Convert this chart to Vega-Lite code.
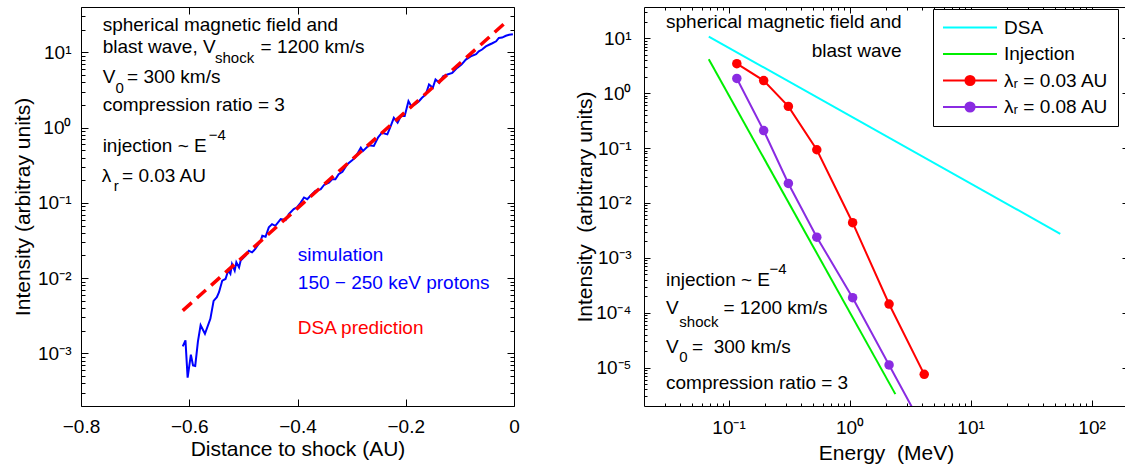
{
  "$schema": "https://vega.github.io/schema/vega-lite/v6.json",
  "background": "white",
  "padding": {"left": 12, "top": 2, "right": 0, "bottom": 0},
  "spacing": 54,
  "config": {
    "font": "Liberation Sans",
    "view": {"stroke": "black", "strokeWidth": 1},
    "axis": {"grid": false, "domain": false, "labelFontSize": 19, "titleFontSize": 21, "titleFontWeight": "normal", "labelColor": "black", "titleColor": "black", "tickColor": "black", "tickWidth": 1, "labelOverlap": false, "labelFlush": false, "labelBound": false}
  },
  "resolve": {"scale": {"color": "independent"}, "legend": {"color": "independent"}},
  "datasets": {
    "sim": [
      {"d": -0.612, "I": 0.00124}, {"d": -0.607, "I": 0.00149}, {"d": -0.603, "I": 0.000477}, {"d": -0.597, "I": 0.00096},
      {"d": -0.593, "I": 0.00069}, {"d": -0.589, "I": 0.00068}, {"d": -0.584, "I": 0.00143}, {"d": -0.579, "I": 0.00237},
      {"d": -0.571, "I": 0.00182}, {"d": -0.561, "I": 0.00288}, {"d": -0.555, "I": 0.00499}, {"d": -0.549, "I": 0.00558},
      {"d": -0.545, "I": 0.0065}, {"d": -0.539, "I": 0.00927}, {"d": -0.533, "I": 0.00975}, {"d": -0.528, "I": 0.0126},
      {"d": -0.524, "I": 0.0114}, {"d": -0.521, "I": 0.0154}, {"d": -0.516, "I": 0.0126}, {"d": -0.513, "I": 0.0163},
      {"d": -0.508, "I": 0.0139}, {"d": -0.505, "I": 0.0171}, {"d": -0.496, "I": 0.0199}, {"d": -0.49, "I": 0.0231},
      {"d": -0.484, "I": 0.022}, {"d": -0.478, "I": 0.0244}, {"d": -0.468, "I": 0.0314}, {"d": -0.465, "I": 0.0366},
      {"d": -0.459, "I": 0.0355}, {"d": -0.453, "I": 0.0472}, {"d": -0.447, "I": 0.0522}, {"d": -0.441, "I": 0.0496},
      {"d": -0.431, "I": 0.0608}, {"d": -0.422, "I": 0.059}, {"d": -0.416, "I": 0.0708}, {"d": -0.407, "I": 0.0826},
      {"d": -0.401, "I": 0.0869}, {"d": -0.394, "I": 0.101}, {"d": -0.388, "I": 0.118}, {"d": -0.382, "I": 0.112},
      {"d": -0.376, "I": 0.124}, {"d": -0.367, "I": 0.144}, {"d": -0.357, "I": 0.152}, {"d": -0.351, "I": 0.173},
      {"d": -0.342, "I": 0.186}, {"d": -0.336, "I": 0.206}, {"d": -0.33, "I": 0.206}, {"d": -0.324, "I": 0.24},
      {"d": -0.317, "I": 0.259}, {"d": -0.308, "I": 0.326}, {"d": -0.299, "I": 0.368}, {"d": -0.293, "I": 0.403},
      {"d": -0.283, "I": 0.542}, {"d": -0.279, "I": 0.489}, {"d": -0.268, "I": 0.581}, {"d": -0.259, "I": 0.569},
      {"d": -0.251, "I": 0.741}, {"d": -0.244, "I": 0.855}, {"d": -0.234, "I": 0.813}, {"d": -0.228, "I": 1.04},
      {"d": -0.222, "I": 1.35}, {"d": -0.215, "I": 1.16}, {"d": -0.209, "I": 1.42}, {"d": -0.202, "I": 1.42},
      {"d": -0.195, "I": 2.24}, {"d": -0.19, "I": 1.93}, {"d": -0.183, "I": 2.03}, {"d": -0.176, "I": 2.22},
      {"d": -0.17, "I": 2.49}, {"d": -0.163, "I": 2.75}, {"d": -0.157, "I": 3.73}, {"d": -0.15, "I": 3.38},
      {"d": -0.145, "I": 4.35}, {"d": -0.138, "I": 3.93}, {"d": -0.131, "I": 4.81}, {"d": -0.123, "I": 5.07},
      {"d": -0.114, "I": 5.34}, {"d": -0.105, "I": 6.21}, {"d": -0.097, "I": 6.87}, {"d": -0.089, "I": 8.0},
      {"d": -0.08, "I": 8.85}, {"d": -0.07, "I": 9.47}, {"d": -0.065, "I": 10.3}, {"d": -0.059, "I": 10.9},
      {"d": -0.052, "I": 12.0}, {"d": -0.046, "I": 12.6}, {"d": -0.04, "I": 13.2}, {"d": -0.033, "I": 14.0},
      {"d": -0.028, "I": 15.5}, {"d": -0.022, "I": 15.7}, {"d": -0.015, "I": 16.6}, {"d": -0.009, "I": 17.1},
      {"d": -0.002, "I": 17.4}
    ],
    "dsaLeft": [{"d": -0.612, "I": 0.0037}, {"d": -0.018, "I": 24}],
    "leftNotes": [
      {"x": -0.76, "y": 19.4, "t": "spherical magnetic field and"},
      {"x": -0.76, "y": 9.82, "t": "blast wave, V"},
      {"x": -0.4683, "y": 9.82, "t": "= 1200 km/s"},
      {"x": -0.76, "y": 3.97, "t": "V"},
      {"x": -0.715, "y": 3.97, "t": "= 300 km/s"},
      {"x": -0.76, "y": 1.64, "t": "compression ratio = 3"},
      {"x": -0.76, "y": 0.47, "t": "injection ~ E"},
      {"x": -0.7615, "y": 0.188, "t": "λ"},
      {"x": -0.7242, "y": 0.188, "t": "= 0.03 AU"}
    ],
    "leftScripts": [
      {"x": -0.5525, "y": 7.31, "t": "shock"},
      {"x": -0.5639, "y": 0.69, "t": "−4"},
      {"x": -0.7364, "y": 2.92, "t": "0"},
      {"x": -0.7395, "y": 0.143, "t": "r"}
    ],
    "leftBlue": [
      {"x": -0.3994, "y": 0.0169, "t": "simulation"},
      {"x": -0.3994, "y": 0.00719, "t": "150 − 250 keV protons"}
    ],
    "leftRed": [{"x": -0.3994, "y": 0.00182, "t": "DSA prediction"}],
    "spectra": [
      {"E": 0.0686, "I": 10.7, "series": "DSA"},
      {"E": 55.1, "I": 0.00274, "series": "DSA"},
      {"E": 0.0686, "I": 4.12, "series": "Injection"},
      {"E": 2.39, "I": 0.00000329, "series": "Injection"},
      {"E": 0.117, "I": 3.43, "series": "λᵣ = 0.03 AU"},
      {"E": 0.195, "I": 1.69, "series": "λᵣ = 0.03 AU"},
      {"E": 0.312, "I": 0.573, "series": "λᵣ = 0.03 AU"},
      {"E": 0.536, "I": 0.093, "series": "λᵣ = 0.03 AU"},
      {"E": 1.06, "I": 0.00436, "series": "λᵣ = 0.03 AU"},
      {"E": 2.12, "I": 0.000144, "series": "λᵣ = 0.03 AU"},
      {"E": 4.14, "I": 0.00000755, "series": "λᵣ = 0.03 AU"},
      {"E": 0.117, "I": 1.85, "series": "λᵣ = 0.08 AU"},
      {"E": 0.195, "I": 0.208, "series": "λᵣ = 0.08 AU"},
      {"E": 0.312, "I": 0.0226, "series": "λᵣ = 0.08 AU"},
      {"E": 0.536, "I": 0.00238, "series": "λᵣ = 0.08 AU"},
      {"E": 1.06, "I": 0.000188, "series": "λᵣ = 0.08 AU"},
      {"E": 2.12, "I": 0.0000112, "series": "λᵣ = 0.08 AU"},
      {"E": 4.14, "I": 0.00000074, "series": "λᵣ = 0.08 AU"}
    ],
    "rightNotes": [
      {"x": 0.0304, "y": 15.2, "t": "spherical magnetic field and"},
      {"x": 0.487, "y": 4.6, "t": "blast wave"},
      {"x": 0.0304, "y": 0.000303, "t": "injection ~ E"},
      {"x": 0.0304, "y": 0.000095, "t": "V"},
      {"x": 0.0906, "y": 0.000095, "t": "= 1200 km/s"},
      {"x": 0.0304, "y": 0.0000182, "t": "V"},
      {"x": 0.0499, "y": 0.0000182, "t": "=\u00a0 300 km/s"},
      {"x": 0.0304, "y": 0.00000416, "t": "compression ratio = 3"}
    ],
    "rightScripts": [
      {"x": 0.218, "y": 0.0005, "t": "−4"},
      {"x": 0.0392, "y": 0.0000561, "t": "shock"},
      {"x": 0.0392, "y": 0.0000128, "t": "0"}
    ]
  },
  "hconcat": [
    {
      "width": 433,
      "height": 399,
      "resolve": {"axis": {"x": "independent", "y": "independent"}},
      "layer": [
        {
          "data": {"name": "sim"},
          "mark": {"type": "line", "color": "#0000ff", "strokeWidth": 2, "clip": true},
          "encoding": {
            "x": {"field": "d", "type": "quantitative", "scale": {"domain": [-0.8, 0], "nice": false, "zero": false},
              "axis": {"orient": "bottom", "values": [-0.8, -0.6, -0.4, -0.2, 0], "format": ".1~f", "tickSize": -7, "labelPadding": 18, "title": "Distance to shock (AU)", "titlePadding": 2}},
            "y": {"field": "I", "type": "quantitative", "scale": {"type": "log", "domain": [0.0002, 40], "nice": false},
              "axis": {"orient": "left",
                "values": [0.0003,0.0004,0.0005,0.0006,0.0007,0.0008,0.0009,0.001,0.002,0.003,0.004,0.005,0.006,0.007,0.008,0.009,0.01,0.02,0.03,0.04,0.05,0.06,0.07,0.08,0.09,0.1,0.2,0.3,0.4,0.5,0.6,0.7,0.8,0.9,1,2,3,4,5,6,7,8,9,10,20,30],
                "labelExpr": "abs(log(datum.value)/LN10-round(log(datum.value)/LN10))<0.01 ? ['10⁻⁶','10⁻⁵','10⁻⁴','10⁻³','10⁻²','10⁻¹','10⁰','10¹','10²','10³'][round(log(datum.value)/LN10)+6] : ''",
                "tickSize": {"condition": {"test": "abs(log(datum.value)/LN10-round(log(datum.value)/LN10))<0.01", "value": -7}, "value": -4},
                "labelPadding": 17, "title": "Intensity (arbitray units)", "titlePadding": 4}}
          }
        },
        {
          "data": {"name": "dsaLeft"},
          "mark": {"type": "line", "color": "#ff0000", "strokeWidth": 3.5, "strokeDash": [12, 7], "clip": true},
          "encoding": {
            "x": {"field": "d", "type": "quantitative", "scale": {"domain": [-0.8, 0], "nice": false, "zero": false},
              "axis": {"orient": "top", "values": [-0.8, -0.6, -0.4, -0.2, 0], "labels": false, "tickSize": -7, "title": null}},
            "y": {"field": "I", "type": "quantitative", "scale": {"type": "log", "domain": [0.0002, 40], "nice": false},
              "axis": {"orient": "right",
                "values": [0.0003,0.0004,0.0005,0.0006,0.0007,0.0008,0.0009,0.001,0.002,0.003,0.004,0.005,0.006,0.007,0.008,0.009,0.01,0.02,0.03,0.04,0.05,0.06,0.07,0.08,0.09,0.1,0.2,0.3,0.4,0.5,0.6,0.7,0.8,0.9,1,2,3,4,5,6,7,8,9,10,20,30],
                "labels": false,
                "tickSize": {"condition": {"test": "abs(log(datum.value)/LN10-round(log(datum.value)/LN10))<0.01", "value": -7}, "value": -4},
                "title": null}}
          }
        },
        {
          "data": {"name": "leftNotes"},
          "mark": {"type": "text", "align": "left", "baseline": "alphabetic", "fontSize": 19, "color": "black"},
          "encoding": {
            "x": {"field": "x", "type": "quantitative", "scale": {"domain": [-0.8, 0], "nice": false, "zero": false}, "axis": null},
            "y": {"field": "y", "type": "quantitative", "scale": {"type": "log", "domain": [0.0002, 40], "nice": false}, "axis": null},
            "text": {"field": "t"}
          }
        },
        {
          "data": {"name": "leftScripts"},
          "mark": {"type": "text", "align": "left", "baseline": "alphabetic", "fontSize": 15, "color": "black"},
          "encoding": {
            "x": {"field": "x", "type": "quantitative", "scale": {"domain": [-0.8, 0], "nice": false, "zero": false}, "axis": null},
            "y": {"field": "y", "type": "quantitative", "scale": {"type": "log", "domain": [0.0002, 40], "nice": false}, "axis": null},
            "text": {"field": "t"}
          }
        },
        {
          "data": {"name": "leftBlue"},
          "mark": {"type": "text", "align": "left", "baseline": "alphabetic", "fontSize": 19, "color": "#0000ff"},
          "encoding": {
            "x": {"field": "x", "type": "quantitative", "scale": {"domain": [-0.8, 0], "nice": false, "zero": false}, "axis": null},
            "y": {"field": "y", "type": "quantitative", "scale": {"type": "log", "domain": [0.0002, 40], "nice": false}, "axis": null},
            "text": {"field": "t"}
          }
        },
        {
          "data": {"name": "leftRed"},
          "mark": {"type": "text", "align": "left", "baseline": "alphabetic", "fontSize": 19, "color": "#ff0000"},
          "encoding": {
            "x": {"field": "x", "type": "quantitative", "scale": {"domain": [-0.8, 0], "nice": false, "zero": false}, "axis": null},
            "y": {"field": "y", "type": "quantitative", "scale": {"type": "log", "domain": [0.0002, 40], "nice": false}, "axis": null},
            "text": {"field": "t"}
          }
        }
      ]
    },
    {
      "width": 484,
      "height": 399,
      "resolve": {"axis": {"x": "independent", "y": "independent"}},
      "layer": [
        {
          "data": {"name": "spectra"},
          "mark": {"type": "line", "strokeWidth": 2, "clip": true},
          "encoding": {
            "x": {"field": "E", "type": "quantitative", "scale": {"type": "log", "domain": [0.02, 200], "nice": false},
              "axis": {"orient": "bottom",
                "values": [0.03,0.04,0.05,0.06,0.07,0.08,0.09,0.1,0.2,0.3,0.4,0.5,0.6,0.7,0.8,0.9,1,2,3,4,5,6,7,8,9,10,20,30,40,50,60,70,80,90,100],
                "labelExpr": "abs(log(datum.value)/LN10-round(log(datum.value)/LN10))<0.01 ? ['10⁻⁶','10⁻⁵','10⁻⁴','10⁻³','10⁻²','10⁻¹','10⁰','10¹','10²','10³'][round(log(datum.value)/LN10)+6] : ''",
                "tickSize": {"condition": {"test": "abs(log(datum.value)/LN10-round(log(datum.value)/LN10))<0.01", "value": -6}, "value": -3},
                "labelPadding": 18, "title": "Energy\u00a0 (MeV)", "titlePadding": 2}},
            "y": {"field": "I", "type": "quantitative", "scale": {"type": "log", "domain": [0.000002, 37], "nice": false},
              "axis": {"orient": "left",
                "values": [0.000003,0.000004,0.000005,0.000006,0.000007,0.000008,0.000009,0.00001,0.00002,0.00003,0.00004,0.00005,0.00006,0.00007,0.00008,0.00009,0.0001,0.0002,0.0003,0.0004,0.0005,0.0006,0.0007,0.0008,0.0009,0.001,0.002,0.003,0.004,0.005,0.006,0.007,0.008,0.009,0.01,0.02,0.03,0.04,0.05,0.06,0.07,0.08,0.09,0.1,0.2,0.3,0.4,0.5,0.6,0.7,0.8,0.9,1,2,3,4,5,6,7,8,9,10,20,30],
                "labelExpr": "abs(log(datum.value)/LN10-round(log(datum.value)/LN10))<0.01 ? ['10⁻⁶','10⁻⁵','10⁻⁴','10⁻³','10⁻²','10⁻¹','10⁰','10¹','10²','10³'][round(log(datum.value)/LN10)+6] : ''",
                "tickSize": {"condition": {"test": "abs(log(datum.value)/LN10-round(log(datum.value)/LN10))<0.01", "value": -6}, "value": -3},
                "labelPadding": 19, "title": "Intensity\u00a0 (arbitrary units)", "titlePadding": 0}},
            "color": {"field": "series", "type": "nominal",
              "scale": {"domain": ["DSA", "Injection", "λᵣ = 0.03 AU", "λᵣ = 0.08 AU"], "range": ["#00ffff", "#00ee00", "#ff0000", "#8a2be2"]},
              "legend": {"orient": "none", "legendX": 289, "legendY": 2, "title": null, "fillColor": "white", "strokeColor": "black",
                "padding": 9, "labelFontSize": 19, "labelColor": "black", "symbolSize": 289, "symbolStrokeWidth": 2, "labelOffset": 43, "rowPadding": 6.5,
                "encode": {"symbols": {"update": {
                  "shape": {"signal": "(datum.value == 'DSA' || datum.value == 'Injection') ? 'M-1,0H5.35' : 'M-1,0H5.35M1.64,0A0.54,0.54,0,1,1,2.72,0A0.54,0.54,0,1,1,1.64,0Z'"},
                  "fill": {"signal": "datum.value == 'DSA' ? '#00ffff' : datum.value == 'Injection' ? '#00ee00' : datum.value == 'λᵣ = 0.03 AU' ? '#ff0000' : '#8a2be2'"},
                  "stroke": {"signal": "datum.value == 'DSA' ? '#00ffff' : datum.value == 'Injection' ? '#00ee00' : datum.value == 'λᵣ = 0.03 AU' ? '#ff0000' : '#8a2be2'"},
                  "strokeWidth": {"value": 2},
                  "opacity": {"value": 1}
                }}}}}
          }
        },
        {
          "data": {"name": "spectra"},
          "transform": [{"filter": {"field": "series", "oneOf": ["λᵣ = 0.03 AU", "λᵣ = 0.08 AU"]}}],
          "mark": {"type": "point", "filled": true, "size": 90, "opacity": 1, "clip": true},
          "encoding": {
            "x": {"field": "E", "type": "quantitative", "scale": {"type": "log", "domain": [0.02, 200], "nice": false},
              "axis": {"orient": "top",
                "values": [0.03,0.04,0.05,0.06,0.07,0.08,0.09,0.1,0.2,0.3,0.4,0.5,0.6,0.7,0.8,0.9,1,2,3,4,5,6,7,8,9,10,20,30,40,50,60,70,80,90,100],
                "labels": false,
                "tickSize": {"condition": {"test": "abs(log(datum.value)/LN10-round(log(datum.value)/LN10))<0.01", "value": -6}, "value": -3},
                "title": null}},
            "y": {"field": "I", "type": "quantitative", "scale": {"type": "log", "domain": [0.000002, 37], "nice": false},
              "axis": {"orient": "right",
                "values": [0.000003,0.000004,0.000005,0.000006,0.000007,0.000008,0.000009,0.00001,0.00002,0.00003,0.00004,0.00005,0.00006,0.00007,0.00008,0.00009,0.0001,0.0002,0.0003,0.0004,0.0005,0.0006,0.0007,0.0008,0.0009,0.001,0.002,0.003,0.004,0.005,0.006,0.007,0.008,0.009,0.01,0.02,0.03,0.04,0.05,0.06,0.07,0.08,0.09,0.1,0.2,0.3,0.4,0.5,0.6,0.7,0.8,0.9,1,2,3,4,5,6,7,8,9,10,20,30],
                "labels": false,
                "tickSize": {"condition": {"test": "abs(log(datum.value)/LN10-round(log(datum.value)/LN10))<0.01", "value": -6}, "value": -3},
                "title": null}},
            "color": {"field": "series", "type": "nominal",
              "scale": {"domain": ["DSA", "Injection", "λᵣ = 0.03 AU", "λᵣ = 0.08 AU"], "range": ["#00ffff", "#00ee00", "#ff0000", "#8a2be2"]},
              "legend": null}
          }
        },
        {
          "data": {"name": "rightNotes"},
          "mark": {"type": "text", "align": "left", "baseline": "alphabetic", "fontSize": 19, "color": "black"},
          "encoding": {
            "x": {"field": "x", "type": "quantitative", "scale": {"type": "log", "domain": [0.02, 200], "nice": false}, "axis": null},
            "y": {"field": "y", "type": "quantitative", "scale": {"type": "log", "domain": [0.000002, 37], "nice": false}, "axis": null},
            "text": {"field": "t"}
          }
        },
        {
          "data": {"name": "rightScripts"},
          "mark": {"type": "text", "align": "left", "baseline": "alphabetic", "fontSize": 15, "color": "black"},
          "encoding": {
            "x": {"field": "x", "type": "quantitative", "scale": {"type": "log", "domain": [0.02, 200], "nice": false}, "axis": null},
            "y": {"field": "y", "type": "quantitative", "scale": {"type": "log", "domain": [0.000002, 37], "nice": false}, "axis": null},
            "text": {"field": "t"}
          }
        }
      ]
    }
  ]
}
